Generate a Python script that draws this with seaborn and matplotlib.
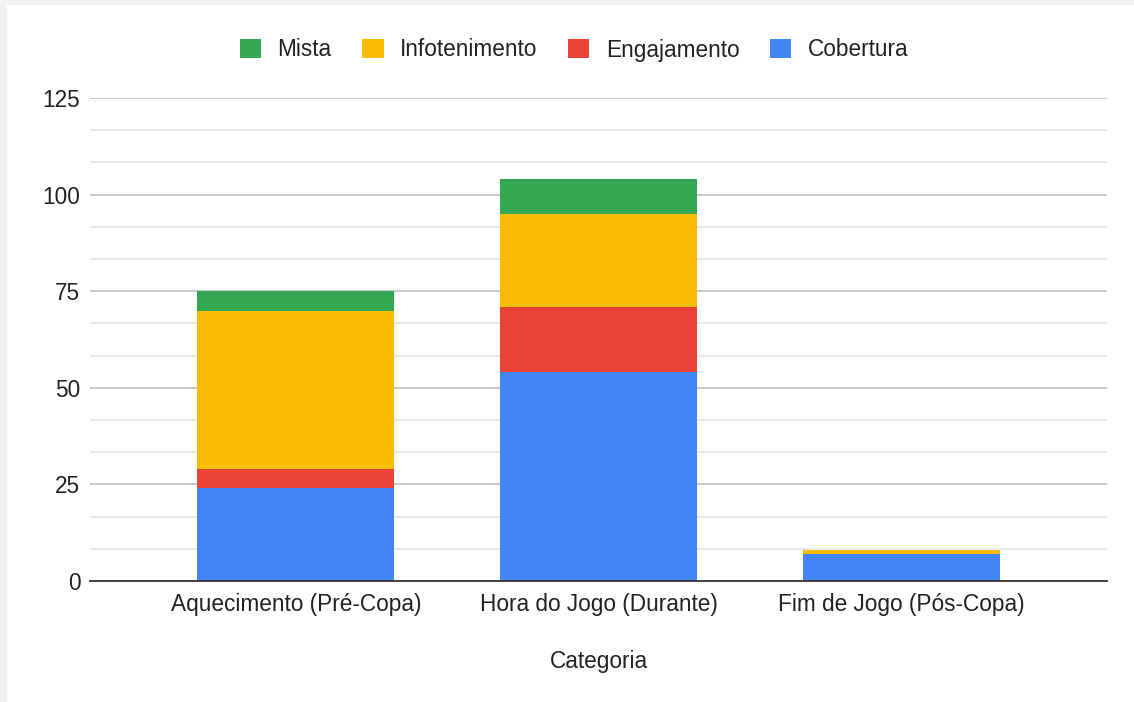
import matplotlib
matplotlib.use("Agg")
import matplotlib.pyplot as plt
import seaborn as sns
import pandas as pd
import numpy as np
from matplotlib.patches import Patch, Rectangle

categorias = ["Aquecimento (Pré-Copa)", "Hora do Jogo (Durante)", "Fim de Jogo (Pós-Copa)"]
cobertura = [24, 54, 7]
engajamento = [5, 17, 0]
infotenimento = [41, 24, 1]
mista = [5, 9, 0]

series_names = ["Cobertura", "Engajamento", "Infotenimento", "Mista"]
series_vals = [cobertura, engajamento, infotenimento, mista]
colors = {"Cobertura": "#4285F4", "Engajamento": "#EA4335",
          "Infotenimento": "#FBBC04", "Mista": "#34A853"}

sns.set_theme(style="white")
plt.rcParams['font.family'] = ['Liberation Sans', 'DejaVu Sans']

FS = 16.3
W, H = 1134, 702
fig = plt.figure(figsize=(W/100, H/100), dpi=100)
fig.patch.set_facecolor("#f1f1f1")
fig.add_artist(Rectangle((7/W, 0), 1 - 7/W, 1 - 5/H, transform=fig.transFigure,
                         facecolor="white", edgecolor="none", zorder=0))
ax = fig.add_axes([90/W, 1-581/H, (1107-90)/W, (581-98)/H])
ax.set_facecolor("none")

cum = np.cumsum(np.array(series_vals), axis=0)
# draw from top of stack downwards
for i in range(len(series_names) - 1, -1, -1):
    df = pd.DataFrame({"Categoria": categorias, "valor": cum[i]})
    sns.barplot(data=df, x="Categoria", y="valor", color=colors[series_names[i]],
                width=0.65, saturation=1, ax=ax, zorder=3, linewidth=0)

ax.set_ylim(0, 125)
ax.set_xlim(-0.68, 2.68)
ax.set_yticks([0, 25, 50, 75, 100, 125])
ax.set_yticks(np.arange(0, 125.1, 25/3), minor=True)
ax.grid(axis="y", which="major", color="#c6c6c6", linewidth=1.3, zorder=0)
ax.grid(axis="y", which="minor", color="#e3e3e3", linewidth=1.1, zorder=0)
ax.set_axisbelow(True)
for s in ["top", "right", "left"]:
    ax.spines[s].set_visible(False)
ax.spines["bottom"].set_color("#333333")
ax.spines["bottom"].set_linewidth(1.3)
ax.spines["bottom"].set_zorder(5)
ax.tick_params(axis="both", which="both", length=0, labelsize=FS, colors="#222222")
ax.tick_params(axis="x", pad=9)
ax.tick_params(axis="y", pad=7)
ax.set_ylabel("")
ax.set_xlabel("Categoria", fontsize=FS, color="#222222", labelpad=24)

handles = [Patch(facecolor=colors[n], edgecolor="none", label=n)
           for n in ["Mista", "Infotenimento", "Engajamento", "Cobertura"]]
fig.legend(handles=handles, loc="center", bbox_to_anchor=(574/W, 1-50/H), ncol=4,
           frameon=False, fontsize=FS, handlelength=0.95, handleheight=0.95,
           columnspacing=1.35, handletextpad=0.72, labelcolor="#222222")

fig.savefig("out.png", dpi=100, facecolor=fig.get_facecolor())
